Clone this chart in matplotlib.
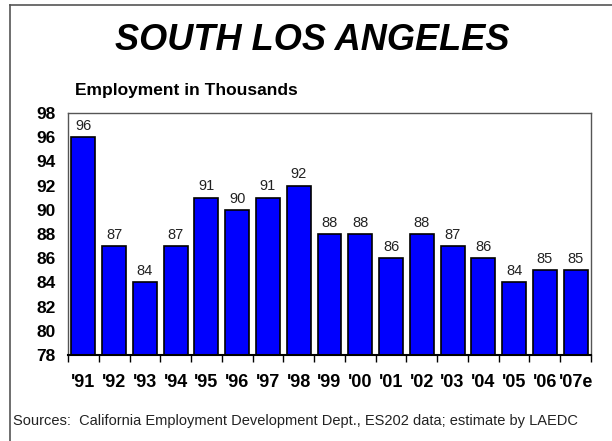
import matplotlib
matplotlib.use("Agg")
import matplotlib.pyplot as plt
from matplotlib.lines import Line2D

plt.rcParams['font.family'] = ['Liberation Sans', 'DejaVu Sans']

years = ["'91", "'92", "'93", "'94", "'95", "'96", "'97", "'98", "'99",
         "'00", "'01", "'02", "'03", "'04", "'05", "'06", "'07e"]
employment = [96, 87, 84, 87, 91, 90, 91, 92, 88, 88, 86, 88, 87, 86, 84, 85, 85]
y_ticks = [78, 80, 82, 84, 86, 88, 90, 92, 94, 96, 98]

fig = plt.figure(figsize=(6.12, 4.41), dpi=100)
ax = fig.add_axes([68 / 612, 1 - 355 / 441, (591 - 68) / 612, (355 - 113) / 441])

x = range(len(years))
ax.bar(x, employment, width=0.78, bottom=0, color='#0000ff', edgecolor='black', linewidth=1.2)
for i, v in enumerate(employment):
    ax.text(i, v + 0.35, str(v), ha='center', va='bottom', fontsize=10.5, color='#222222')

ax.set_ylim(78, 98)
ax.set_xlim(-0.5, len(years) - 0.5)
ax.set_yticks(y_ticks)
ax.set_yticklabels([str(t) for t in y_ticks], fontsize=12.5, fontweight='bold')
ax.tick_params(axis='y', length=0, pad=9)

# category separators below the axis instead of centred ticks
ax.set_xticks([i + 0.5 for i in range(-1, len(years))])
ax.set_xticklabels([])
ax.tick_params(axis='x', direction='out', length=5, width=1)
for i, lab in enumerate(years):
    ax.text(i, 76.4, lab, ha='center', va='top', fontsize=13, fontweight='bold')

for s in ['top', 'right', 'left']:
    ax.spines[s].set_color('#555555')
    ax.spines[s].set_linewidth(1)
ax.spines['bottom'].set_linewidth(1.5)

fig.text(0.511, 1 - 40 / 441, 'SOUTH LOS ANGELES', ha='center', va='center',
         fontsize=26, fontweight='bold', fontstyle='italic')
fig.text(75 / 612, 1 - 90 / 441, 'Employment in Thousands', ha='left', va='center',
         fontsize=12.5, fontweight='bold')
fig.text(13 / 612, 1 - 421 / 441,
         'Sources:  California Employment Development Dept., ES202 data; estimate by LAEDC',
         ha='left', va='center', fontsize=10.5, color='#222222')

# outer frame (left and top edges)
fig.add_artist(Line2D([10 / 612, 10 / 612], [0, 1 - 5 / 441], transform=fig.transFigure,
                      color='#555555', linewidth=1.2))
fig.add_artist(Line2D([10 / 612, 1], [1 - 5 / 441, 1 - 5 / 441], transform=fig.transFigure,
                      color='#555555', linewidth=1.2))

fig.savefig('out.png', dpi=100)
